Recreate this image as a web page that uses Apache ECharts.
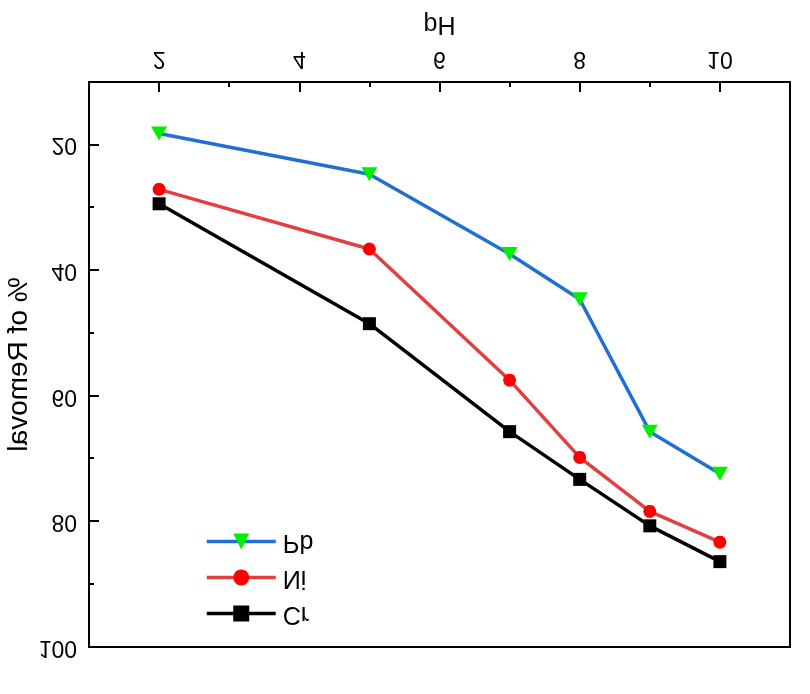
<!DOCTYPE html>
<html>
<head>
<meta charset="utf-8">
<script src="https://cdn.jsdelivr.net/npm/echarts@6/dist/echarts.min.js"></script>
<style>
  html, body { margin: 0; padding: 0; background: #fff; }
  /* the reference is a vertically mirrored plot, so flip the whole chart */
  #chart { width: 810px; height: 694px; transform: scaleY(-1); }
</style>
</head>
<body>
<div id="chart"></div>
<script>
// pH values
const phValues = [2, 5, 7, 8, 9, 10]
// % of removal per metal
const pbRemoval = [18.2, 24.7, 37.4, 44.6, 65.7, 72.4]
const niRemoval = [27.1, 36.6, 57.5, 69.8, 78.4, 83.3]
const crRemoval = [29.4, 48.5, 65.7, 73.3, 80.7, 86.4]
// tick marks
const xMajorTicks = [2, 4, 6, 8, 10]
const xMinorTicks = [3, 5, 7, 9]
const yMajorTicks = [20, 40, 60, 80, 100]
const yMinorTicks = [30, 50, 70, 90]

const font = '"Liberation Sans", Arial, sans-serif'
const pairs = (vals) => phValues.map((x, i) => [x, vals[i]])

const chart = echarts.init(document.getElementById('chart'))

chart.setOption({
  animation: false,
  backgroundColor: '#fff',
  grid: {
    left: 89, right: 20, top: 47, bottom: 82,
    outerBoundsMode: 'none', containLabel: false,
    show: true, borderColor: '#000', borderWidth: 2, backgroundColor: 'transparent'
  },
  legend: {
    orient: 'vertical',
    left: 200,
    top: 63,
    itemWidth: 69,
    itemHeight: 20,
    itemGap: 11,
    data: ['Cr', 'Ni', 'Pb'],
    lineStyle: { width: 3.5 },
    textStyle: { fontSize: 25, fontFamily: font, color: '#000', padding: [0, 0, 0, 2] }
  },
  xAxis: [
    {
      type: 'value', min: 1, max: 11, interval: 1,
      name: 'pH', nameLocation: 'middle', nameGap: 46,
      nameTextStyle: { fontSize: 25, fontFamily: font, color: '#000' },
      axisLine: { lineStyle: { color: '#000', width: 2 } },
      axisTick: { inside: true, length: 10, customValues: xMajorTicks, lineStyle: { color: '#000', width: 2 } },
      axisLabel: { customValues: xMajorTicks, margin: 12, fontSize: 23, fontFamily: font, color: '#000' },
      splitLine: { show: false }
    },
    {
      type: 'value', min: 1, max: 11, interval: 1, position: 'bottom',
      axisLine: { show: false },
      axisTick: { inside: true, length: 5, customValues: xMinorTicks, lineStyle: { color: '#000', width: 2 } },
      axisLabel: { show: false },
      splitLine: { show: false }
    }
  ],
  yAxis: [
    {
      type: 'value', min: 10, max: 100, interval: 10,
      name: '% of Removal', nameLocation: 'middle', nameGap: 56, nameMoveOverlap: false,
      nameTextStyle: { fontSize: 28, fontFamily: font, color: '#000' },
      axisLine: { show: true, lineStyle: { color: '#000', width: 2 } },
      axisTick: { show: true, inside: true, length: 10, customValues: yMajorTicks, lineStyle: { color: '#000', width: 2 } },
      axisLabel: { customValues: yMajorTicks, margin: 12, fontSize: 23, fontFamily: font, color: '#000' },
      splitLine: { show: false }
    },
    {
      type: 'value', min: 10, max: 100, interval: 10, position: 'left',
      axisLine: { show: false },
      axisTick: { show: true, inside: true, length: 5, customValues: yMinorTicks, lineStyle: { color: '#000', width: 2 } },
      axisLabel: { show: false },
      splitLine: { show: false }
    }
  ],
  series: [
    {
      name: 'Cr', type: 'line', data: pairs(crRemoval),
      symbol: 'rect', symbolSize: 13,
      lineStyle: { color: '#000', width: 3.5 },
      itemStyle: { color: '#000' }
    },
    {
      name: 'Ni', type: 'line', data: pairs(niRemoval),
      symbol: 'circle', symbolSize: 13,
      lineStyle: { color: '#e0403f', width: 3.5 },
      itemStyle: { color: '#ff0000' }
    },
    {
      name: 'Pb', type: 'line', data: pairs(pbRemoval),
      symbol: 'triangle', symbolSize: [16, 14],
      lineStyle: { color: '#1f6fd4', width: 3.5 },
      itemStyle: { color: '#00ee00' }
    }
  ]
})
</script>
</body>
</html>
